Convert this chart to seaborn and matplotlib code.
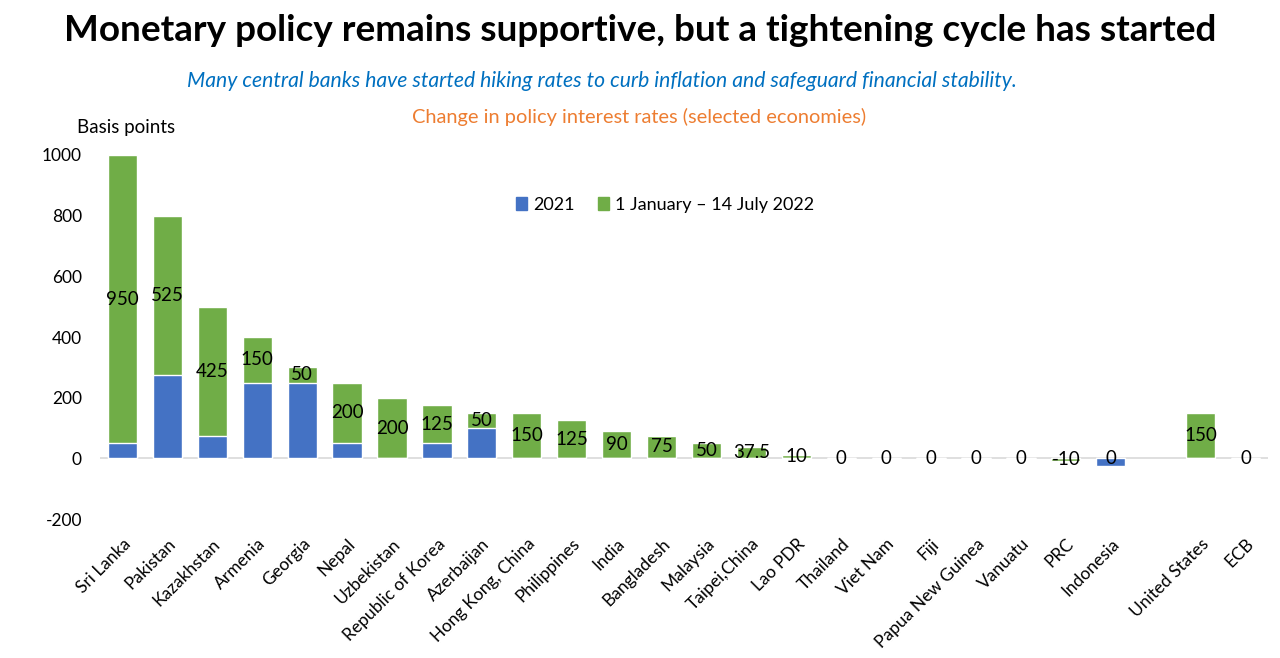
import numpy as np
import pandas as pd
import matplotlib
matplotlib.use("Agg")
import matplotlib.pyplot as plt
import seaborn as sns
from matplotlib.patches import Patch

sns.set_style("white")
plt.rcParams['font.family'] = ['Lato', 'DejaVu Sans']
plt.rcParams['text.color'] = 'black'
plt.rcParams['xtick.color'] = 'black'
plt.rcParams['ytick.color'] = 'black'

categories = ["Sri Lanka", "Pakistan", "Kazakhstan", "Armenia", "Georgia", "Nepal",
              "Uzbekistan", "Republic of Korea", "Azerbaijan", "Hong Kong, China",
              "Philippines", "India", "Bangladesh", "Malaysia", "Taipei,China",
              "Lao PDR", "Thailand", "Viet Nam", "Fiji", "Papua New Guinea",
              "Vanuatu", "PRC", "Indonesia", "", "United States", "ECB"]
rates_2021 = [50, 275, 75, 250, 250, 50, 0, 50, 100, 0, 0, 0, 0, 0, 0, 0, 0, 0, 0, 0,
              0, 0, -25, np.nan, 0, 0]
rates_2022 = [950, 525, 425, 150, 50, 200, 200, 125, 50, 150, 125, 90, 75, 50, 37.5,
              10, 0, 0, 0, 0, 0, -10, 0, np.nan, 150, 0]
series_names = ["2021", "1 January \u2013 14 July 2022"]
y_ticks = [-200, 0, 200, 400, 600, 800, 1000]

BLUE = "#4472C4"
GREEN = "#70AD47"

df = pd.DataFrame({"cat": categories, "r21": rates_2021, "r22": rates_2022})
df["green_bottom"] = np.where(df["r22"] >= 0, df["r21"].clip(lower=0), df["r21"].clip(upper=0))
df["green_top"] = df["green_bottom"] + df["r22"]

fig = plt.figure(figsize=(12.8, 6.58), dpi=100)
ax = fig.add_axes([100/1280, 1 - 519/658, 1168/1280, (519 - 155)/658])

# total (green) then 2021 (blue) on top -> stacked appearance
sns.barplot(data=df, x="cat", y="green_top", order=categories, color=GREEN,
            width=0.65, ax=ax, saturation=1, errorbar=None)
sns.barplot(data=df, x="cat", y="r21", order=categories, color=BLUE,
            width=0.65, ax=ax, saturation=1, errorbar=None)

ax.set_ylim(-200, 1000)
ax.set_xlim(-0.5, len(categories) - 0.5)
ax.set_yticks(y_ticks)
ax.set_yticklabels([str(v) for v in y_ticks], fontsize=12.5)
ax.tick_params(axis="y", length=0, pad=13)
ax.tick_params(axis="x", length=0, pad=12)
ax.set_xticks(range(len(categories)))
ax.set_xticklabels(categories, rotation=45, ha="right", rotation_mode="anchor", fontsize=12.5)
ax.set_xlabel("")
ax.set_ylabel("")
for s in ax.spines.values():
    s.set_visible(False)
ax.axhline(0, color="#D9D9D9", lw=1.2, zorder=0.5)

# data labels for 2022 series
for i, row in df.iterrows():
    if np.isnan(row["r22"]):
        continue
    yc = (row["green_bottom"] + row["green_top"]) / 2
    txt = f"{row['r22']:g}"
    ax.text(i, yc, txt, ha="center", va="center", fontsize=13.5, color="black", zorder=5)

ax.legend(handles=[Patch(color=BLUE, label=series_names[0]),
                   Patch(color=GREEN, label=series_names[1])],
          loc="upper left", bbox_to_anchor=(0.342, 0.93), ncol=2, frameon=False,
          fontsize=13, handlelength=0.6, handleheight=0.75, columnspacing=1.3,
          handletextpad=0.35)

fig.text(0.5, 0.954, "Monetary policy remains supportive, but a tightening cycle has started",
         ha="center", va="center", fontsize=26.6, fontweight="bold")
fig.text(0.470, 0.877, "Many central banks have started hiking rates to curb inflation and safeguard financial stability.",
         ha="center", va="center", fontsize=15.2, style="italic", color="#0070C0")
fig.text(0.4996, 0.822, "Change in policy interest rates (selected economies)",
         ha="center", va="center", fontsize=14.4, color="#ED7D31")
fig.text(77/1280, 1 - 128/658, "Basis points", ha="left", va="center", fontsize=13.5)

fig.savefig("out.png", dpi=100)
